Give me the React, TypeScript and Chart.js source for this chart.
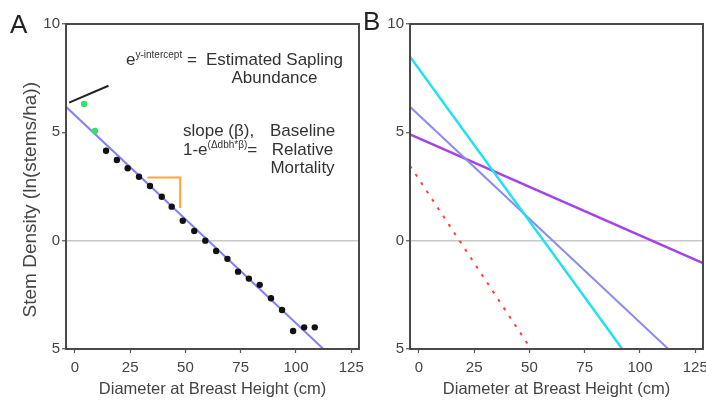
import React, { useEffect, useRef } from "react";
import { Chart, registerables } from "chart.js";

Chart.register(...registerables);

const FONT = "'Liberation Sans', Arial, Helvetica, sans-serif";

// ---- axes ----
const xTickValues = [0, 25, 50, 75, 100, 125];
const yTickValues = [-5, 0, 5, 10];
const yTickLabels = ["5", "0", "5", "10"]; // printed as in the figure
const X_MIN = -4;
const X_MAX = 128.5;
const Y_MIN = -5;
const Y_MAX = 10;

const xTitle = "Diameter at Breast Height (cm)";
const yTitle = "Stem Density (ln(stems/ha))";

// ---- panel A ----
const greenDbh = [4.2, 9.1];
const greenDensity = [6.31, 5.06];
const blackDbh = [14.1, 19.0, 23.9, 29.0, 34.0, 39.3, 43.8, 48.8, 54.0, 59.0, 63.9, 69.0, 73.8, 78.7, 83.6, 88.7, 93.7, 98.7, 103.7, 108.5];
const blackDensity = [4.15, 3.72, 3.34, 2.95, 2.52, 2.03, 1.57, 0.92, 0.45, 0.0, -0.48, -0.84, -1.43, -1.75, -2.04, -2.66, -3.2, -4.17, -4.0, -4.0];
const fitLineDbh = [-4, 112.4];
const fitLineDensity = [6.18, -5];
const interceptMarkDbh = [-2.6, 15.2];
const interceptMarkDensity = [6.37, 7.15];
const slopeMarkDbh = [32.8, 47.6, 47.6];
const slopeMarkDensity = [2.91, 2.91, 1.51];

// ---- panel B ----
const cyanDbh = [-4, 92.0];
const cyanDensity = [8.49, -5];
const blueDbh = [-4, 112.8];
const blueDensity = [6.18, -5];
const purpleDbh = [-4, 128.5];
const purpleDensity = [4.91, -1.04];
const redDbh = [-4, 50.7];
const redDensity = [3.46, -5];

const zip = (xs: number[], ys: number[]) => xs.map((x, i) => ({ x, y: ys[i] }));

const framePlugin = {
  id: "frame",
  afterDraw(chart: any) {
    const { ctx, chartArea } = chart;
    const { left, top, right, bottom } = chartArea;
    ctx.save();
    ctx.strokeStyle = "#4a4a4a";
    ctx.lineWidth = 2;
    ctx.strokeRect(left, top, right - left, bottom - top);
    ctx.restore();
  },
};

function lineDs(xs: number[], ys: number[], color: string, width: number, extra: any = {}) {
  return {
    data: zip(xs, ys),
    showLine: true,
    borderColor: color,
    backgroundColor: color,
    borderWidth: width,
    pointRadius: 0,
    pointHoverRadius: 0,
    order: 2,
    ...extra,
  };
}

function makeOptions(yAxisWidth: number, padRight: number, showYTitle: boolean) {
  return {
    responsive: false,
    animation: false,
    devicePixelRatio: 1,
    layout: { padding: { left: 0, top: 24, right: padRight, bottom: 0 } },
    plugins: { legend: { display: false }, tooltip: { enabled: false } },
    scales: {
      x: {
        type: "linear",
        min: X_MIN,
        max: X_MAX,
        afterBuildTicks: (s: any) => {
          s.ticks = xTickValues.map((v) => ({ value: v }));
        },
        afterFit: (s: any) => {
          s.height = 51;
        },
        ticks: {
          font: { family: FONT, size: 15 },
          color: "#444",
          padding: 6,
          maxRotation: 0,
          autoSkip: false,
        },
        grid: {
          drawOnChartArea: false,
          drawTicks: true,
          tickLength: 4,
          tickColor: "#555",
          tickWidth: 1.2,
        },
        border: { display: false },
        title: {
          display: true,
          text: xTitle,
          font: { family: FONT, size: 16.5, lineHeight: 1 },
          color: "#444",
          padding: { top: 0, bottom: 2 },
        },
      },
      y: {
        type: "linear",
        min: Y_MIN,
        max: Y_MAX,
        afterBuildTicks: (s: any) => {
          s.ticks = yTickValues.map((v) => ({ value: v }));
        },
        afterFit: (s: any) => {
          s.width = yAxisWidth;
        },
        ticks: {
          font: { family: FONT, size: 15 },
          color: "#444",
          padding: 2,
          callback: (v: any) => yTickLabels[yTickValues.indexOf(Number(v))],
        },
        grid: {
          drawOnChartArea: true,
          color: (c: any) => (c.tick && c.tick.value === 0 ? "#c8c8c8" : "rgba(0,0,0,0)"),
          lineWidth: 1.5,
          drawTicks: true,
          tickLength: 4,
          tickColor: "#555",
          tickWidth: 1.2,
        },
        border: { display: false },
        title: {
          display: showYTitle,
          text: yTitle + "     ",
          font: { family: FONT, size: 19, lineHeight: 1 },
          color: "#444",
          padding: { top: 21.5, bottom: 0 },
        },
      },
    },
  };
}

export default function App() {
  const refA = useRef<HTMLCanvasElement | null>(null);
  const refB = useRef<HTMLCanvasElement | null>(null);

  useEffect(() => {
    const chartA = new Chart(refA.current as HTMLCanvasElement, {
      type: "scatter",
      data: {
        datasets: [
          {
            data: zip(greenDbh, greenDensity),
            pointRadius: 3.2,
            pointBackgroundColor: "#2fe36a",
            pointBorderWidth: 0,
            order: 0,
          },
          {
            data: zip(blackDbh, blackDensity),
            pointRadius: 3.2,
            pointBackgroundColor: "#111",
            pointBorderWidth: 0,
            order: 0,
          },
          lineDs(fitLineDbh, fitLineDensity, "#8080ff", 2),
          lineDs(interceptMarkDbh, interceptMarkDensity, "#222", 2),
          lineDs(slopeMarkDbh, slopeMarkDensity, "#ffa53a", 2),
        ] as any,
      },
      options: makeOptions(66, 21, true) as any,
      plugins: [framePlugin],
    });

    const chartB = new Chart(refB.current as HTMLCanvasElement, {
      type: "scatter",
      data: {
        datasets: [
          lineDs(cyanDbh, cyanDensity, "#1ee2ef", 2.5),
          lineDs(blueDbh, blueDensity, "#8c8cf2", 2),
          lineDs(purpleDbh, purpleDensity, "#a443e6", 2.5),
          lineDs(redDbh, redDensity, "#ff4040", 2, { borderDash: [3, 7] }),
        ] as any,
      },
      options: makeOptions(49, 18, false) as any,
      plugins: [framePlugin],
    });

    return () => {
      chartA.destroy();
      chartB.destroy();
    };
  }, []);

  const text: React.CSSProperties = {
    position: "absolute",
    fontFamily: FONT,
    color: "#333",
    fontSize: 17,
    whiteSpace: "nowrap",
  };
  const sup: React.CSSProperties = {
    fontSize: 10,
    position: "relative",
    top: -7,
  };

  return (
    <div
      style={{
        position: "fixed",
        left: 0,
        top: 0,
        width: 706,
        height: 400,
        overflow: "hidden",
        background: "#fff",
      }}
    >
      <canvas
        ref={refA}
        width={380}
        height={400}
        style={{ position: "absolute", left: 0, top: 0, width: 380, height: 400 }}
      />
      <canvas
        ref={refB}
        width={360}
        height={400}
        style={{ position: "absolute", left: 361, top: 0, width: 360, height: 400 }}
      />

      <div style={{ ...text, left: 10, top: 10.5, fontSize: 26, lineHeight: "26px", color: "#222" }}>A</div>
      <div style={{ ...text, left: 363, top: 8, fontSize: 26, lineHeight: "26px", color: "#222" }}>B</div>

      <div style={{ ...text, left: 126, top: 51, lineHeight: "18px" }}>
        e<span style={sup}>y-intercept</span> =
      </div>
      <div style={{ ...text, left: 204, top: 50.5, width: 141, textAlign: "center", lineHeight: "18px" }}>
        Estimated Sapling
        <br />
        Abundance
      </div>
      <div style={{ ...text, left: 183, top: 122, lineHeight: "18.5px" }}>
        slope (β),
        <br />
        1-e<span style={sup}>(Δdbh*β)</span>=
      </div>
      <div style={{ ...text, left: 262, top: 122, width: 81, textAlign: "center", lineHeight: "18.5px" }}>
        Baseline
        <br />
        Relative
        <br />
        Mortality
      </div>
    </div>
  );
}
